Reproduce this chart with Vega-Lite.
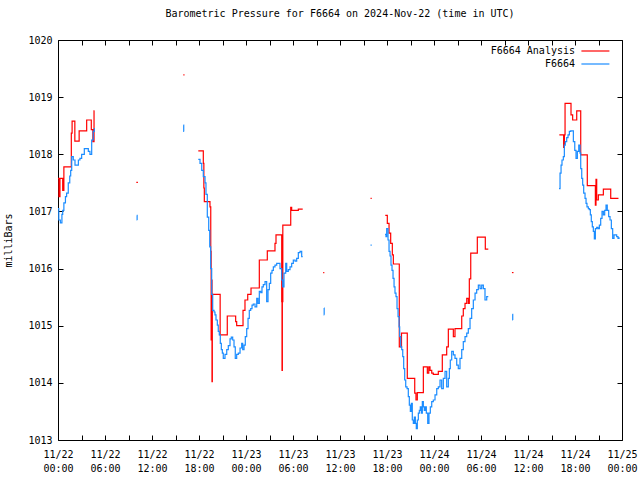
{
  "$schema": "https://vega.github.io/schema/vega-lite/v6.json",
  "width": 564,
  "height": 400,
  "autosize": "none",
  "padding": {"left": 58, "top": 40, "right": 18, "bottom": 40},
  "background": "white",
  "title": {"text": "Barometric Pressure for F6664 on 2024-Nov-22 (time in UTC)", "font": "DejaVu Sans Mono", "fontSize": 10, "fontWeight": "normal", "color": "black", "offset": 16},
  "datasets": {
    "analysis": [
      {"seg": 1, "hour": 0.0, "mbar": 1017.58}, {"seg": 1, "hour": 0.12, "mbar": 1017.26}, {"seg": 1, "hour": 0.25, "mbar": 1017.58}, {"seg": 1, "hour": 0.6, "mbar": 1017.37}, {"seg": 1, "hour": 0.75, "mbar": 1017.78}, {"seg": 1, "hour": 1.7, "mbar": 1018.37}, {"seg": 1, "hour": 1.8, "mbar": 1018.58}, {"seg": 1, "hour": 2.15, "mbar": 1018.23}, {"seg": 1, "hour": 2.7, "mbar": 1018.41}, {"seg": 1, "hour": 3.66, "mbar": 1018.6}, {"seg": 1, "hour": 4.25, "mbar": 1018.43}, {"seg": 1, "hour": 4.45, "mbar": 1018.22}, {"seg": 1, "hour": 4.6, "mbar": 1018.76}, {"seg": 1, "hour": 4.66, "mbar": 1018.76},
      {"seg": 2, "hour": 10.0, "mbar": 1017.51}, {"seg": 2, "hour": 10.2, "mbar": 1017.51},
      {"seg": 3, "hour": 16.0, "mbar": 1019.39}, {"seg": 3, "hour": 16.15, "mbar": 1019.39},
      {"seg": 4, "hour": 17.91, "mbar": 1018.06}, {"seg": 4, "hour": 18.55, "mbar": 1017.84}, {"seg": 4, "hour": 18.62, "mbar": 1017.41}, {"seg": 4, "hour": 18.68, "mbar": 1017.17}, {"seg": 4, "hour": 19.4, "mbar": 1017.08}, {"seg": 4, "hour": 19.5, "mbar": 1016.3}, {"seg": 4, "hour": 19.55, "mbar": 1014.75}, {"seg": 4, "hour": 19.6, "mbar": 1015.8}, {"seg": 4, "hour": 19.66, "mbar": 1014.02}, {"seg": 4, "hour": 19.7, "mbar": 1015.55}, {"seg": 4, "hour": 20.7, "mbar": 1014.84}, {"seg": 4, "hour": 21.61, "mbar": 1015.17}, {"seg": 4, "hour": 22.68, "mbar": 1015.07}, {"seg": 4, "hour": 22.81, "mbar": 1015.0}, {"seg": 4, "hour": 23.62, "mbar": 1015.27}, {"seg": 4, "hour": 23.87, "mbar": 1015.45}, {"seg": 4, "hour": 24.22, "mbar": 1015.55}, {"seg": 4, "hour": 24.64, "mbar": 1015.66}, {"seg": 4, "hour": 25.7, "mbar": 1016.15}, {"seg": 4, "hour": 26.72, "mbar": 1016.31}, {"seg": 4, "hour": 27.7, "mbar": 1016.44}, {"seg": 4, "hour": 27.83, "mbar": 1016.59}, {"seg": 4, "hour": 28.56, "mbar": 1015.42}, {"seg": 4, "hour": 28.6, "mbar": 1014.22}, {"seg": 4, "hour": 28.64, "mbar": 1015.42}, {"seg": 4, "hour": 28.7, "mbar": 1016.76}, {"seg": 4, "hour": 29.71, "mbar": 1017.07}, {"seg": 4, "hour": 29.83, "mbar": 1017.02}, {"seg": 4, "hour": 30.68, "mbar": 1017.04}, {"seg": 4, "hour": 31.24, "mbar": 1017.04},
      {"seg": 5, "hour": 33.85, "mbar": 1015.93}, {"seg": 5, "hour": 34.0, "mbar": 1015.93},
      {"seg": 6, "hour": 39.9, "mbar": 1017.23}, {"seg": 6, "hour": 40.05, "mbar": 1017.23},
      {"seg": 7, "hour": 41.78, "mbar": 1016.93}, {"seg": 7, "hour": 42.04, "mbar": 1016.79}, {"seg": 7, "hour": 42.26, "mbar": 1016.62}, {"seg": 7, "hour": 42.47, "mbar": 1016.44}, {"seg": 7, "hour": 42.68, "mbar": 1016.24}, {"seg": 7, "hour": 42.81, "mbar": 1016.08}, {"seg": 7, "hour": 43.57, "mbar": 1014.63}, {"seg": 7, "hour": 43.85, "mbar": 1014.87}, {"seg": 7, "hour": 44.59, "mbar": 1014.08}, {"seg": 7, "hour": 45.54, "mbar": 1013.82}, {"seg": 7, "hour": 45.7, "mbar": 1013.7}, {"seg": 7, "hour": 45.87, "mbar": 1013.83}, {"seg": 7, "hour": 46.64, "mbar": 1014.28}, {"seg": 7, "hour": 47.15, "mbar": 1014.17}, {"seg": 7, "hour": 47.33, "mbar": 1014.28}, {"seg": 7, "hour": 47.49, "mbar": 1014.22}, {"seg": 7, "hour": 47.71, "mbar": 1014.17}, {"seg": 7, "hour": 47.91, "mbar": 1014.15}, {"seg": 7, "hour": 48.55, "mbar": 1014.2}, {"seg": 7, "hour": 49.06, "mbar": 1014.49}, {"seg": 7, "hour": 49.62, "mbar": 1014.63}, {"seg": 7, "hour": 49.83, "mbar": 1014.94}, {"seg": 7, "hour": 50.47, "mbar": 1014.81}, {"seg": 7, "hour": 50.68, "mbar": 1014.95}, {"seg": 7, "hour": 51.54, "mbar": 1015.17}, {"seg": 7, "hour": 51.74, "mbar": 1015.3}, {"seg": 7, "hour": 51.96, "mbar": 1015.39}, {"seg": 7, "hour": 52.18, "mbar": 1015.48}, {"seg": 7, "hour": 52.38, "mbar": 1015.39}, {"seg": 7, "hour": 52.51, "mbar": 1015.82}, {"seg": 7, "hour": 52.69, "mbar": 1016.27}, {"seg": 7, "hour": 53.53, "mbar": 1016.55}, {"seg": 7, "hour": 54.55, "mbar": 1016.34}, {"seg": 7, "hour": 54.93, "mbar": 1016.34},
      {"seg": 8, "hour": 57.95, "mbar": 1015.93}, {"seg": 8, "hour": 58.15, "mbar": 1015.93},
      {"seg": 9, "hour": 64.0, "mbar": 1018.34}, {"seg": 9, "hour": 64.55, "mbar": 1018.12}, {"seg": 9, "hour": 64.65, "mbar": 1018.34}, {"seg": 9, "hour": 64.73, "mbar": 1018.89}, {"seg": 9, "hour": 65.49, "mbar": 1018.69}, {"seg": 9, "hour": 65.7, "mbar": 1018.6}, {"seg": 9, "hour": 66.22, "mbar": 1018.76}, {"seg": 9, "hour": 66.73, "mbar": 1017.99}, {"seg": 9, "hour": 67.57, "mbar": 1017.45}, {"seg": 9, "hour": 68.6, "mbar": 1017.11}, {"seg": 9, "hour": 68.68, "mbar": 1017.56}, {"seg": 9, "hour": 68.77, "mbar": 1017.2}, {"seg": 9, "hour": 68.98, "mbar": 1017.29}, {"seg": 9, "hour": 69.62, "mbar": 1017.39}, {"seg": 9, "hour": 70.56, "mbar": 1017.23}, {"seg": 9, "hour": 71.55, "mbar": 1017.23}
    ],
    "observed": [
      {"seg": 1, "hour": 0.0, "mbar": 1017.05}, {"seg": 1, "hour": 0.1, "mbar": 1016.85}, {"seg": 1, "hour": 0.3, "mbar": 1016.8}, {"seg": 1, "hour": 0.5, "mbar": 1016.95}, {"seg": 1, "hour": 0.6, "mbar": 1017.02}, {"seg": 1, "hour": 0.75, "mbar": 1017.15}, {"seg": 1, "hour": 0.95, "mbar": 1017.26}, {"seg": 1, "hour": 1.1, "mbar": 1017.32}, {"seg": 1, "hour": 1.31, "mbar": 1017.5}, {"seg": 1, "hour": 1.5, "mbar": 1017.62}, {"seg": 1, "hour": 1.62, "mbar": 1017.72}, {"seg": 1, "hour": 1.75, "mbar": 1017.96}, {"seg": 1, "hour": 1.95, "mbar": 1017.9}, {"seg": 1, "hour": 2.17, "mbar": 1017.81}, {"seg": 1, "hour": 2.6, "mbar": 1017.9}, {"seg": 1, "hour": 2.8, "mbar": 1017.93}, {"seg": 1, "hour": 3.02, "mbar": 1018.0}, {"seg": 1, "hour": 3.36, "mbar": 1018.1}, {"seg": 1, "hour": 3.87, "mbar": 1018.05}, {"seg": 1, "hour": 4.08, "mbar": 1018.0}, {"seg": 1, "hour": 4.3, "mbar": 1018.25}, {"seg": 1, "hour": 4.5, "mbar": 1018.4}, {"seg": 1, "hour": 4.63, "mbar": 1018.46},
      {"seg": 2, "hour": 10.05, "mbar": 1016.93}, {"seg": 2, "hour": 10.1, "mbar": 1016.85}, {"seg": 2, "hour": 10.12, "mbar": 1016.85},
      {"seg": 3, "hour": 16.0, "mbar": 1018.51}, {"seg": 3, "hour": 16.05, "mbar": 1018.4}, {"seg": 3, "hour": 16.07, "mbar": 1018.4},
      {"seg": 4, "hour": 17.91, "mbar": 1017.91}, {"seg": 4, "hour": 18.13, "mbar": 1017.84}, {"seg": 4, "hour": 18.35, "mbar": 1017.72}, {"seg": 4, "hour": 18.55, "mbar": 1017.61}, {"seg": 4, "hour": 18.77, "mbar": 1017.5}, {"seg": 4, "hour": 18.89, "mbar": 1017.3}, {"seg": 4, "hour": 19.06, "mbar": 1016.9}, {"seg": 4, "hour": 19.24, "mbar": 1016.67}, {"seg": 4, "hour": 19.37, "mbar": 1016.38}, {"seg": 4, "hour": 19.49, "mbar": 1016.0}, {"seg": 4, "hour": 19.62, "mbar": 1015.55}, {"seg": 4, "hour": 19.75, "mbar": 1015.27}, {"seg": 4, "hour": 19.92, "mbar": 1015.24}, {"seg": 4, "hour": 20.04, "mbar": 1015.19}, {"seg": 4, "hour": 20.17, "mbar": 1015.1}, {"seg": 4, "hour": 20.34, "mbar": 1015.01}, {"seg": 4, "hour": 20.46, "mbar": 1014.9}, {"seg": 4, "hour": 20.59, "mbar": 1014.84}, {"seg": 4, "hour": 20.72, "mbar": 1014.69}, {"seg": 4, "hour": 20.85, "mbar": 1014.58}, {"seg": 4, "hour": 20.98, "mbar": 1014.52}, {"seg": 4, "hour": 21.1, "mbar": 1014.43}, {"seg": 4, "hour": 21.32, "mbar": 1014.5}, {"seg": 4, "hour": 21.54, "mbar": 1014.58}, {"seg": 4, "hour": 21.74, "mbar": 1014.65}, {"seg": 4, "hour": 21.96, "mbar": 1014.77}, {"seg": 4, "hour": 22.12, "mbar": 1014.8}, {"seg": 4, "hour": 22.3, "mbar": 1014.75}, {"seg": 4, "hour": 22.47, "mbar": 1014.63}, {"seg": 4, "hour": 22.63, "mbar": 1014.43}, {"seg": 4, "hour": 22.81, "mbar": 1014.5}, {"seg": 4, "hour": 23.02, "mbar": 1014.52}, {"seg": 4, "hour": 23.24, "mbar": 1014.61}, {"seg": 4, "hour": 23.45, "mbar": 1014.69}, {"seg": 4, "hour": 23.58, "mbar": 1014.58}, {"seg": 4, "hour": 23.75, "mbar": 1014.66}, {"seg": 4, "hour": 23.91, "mbar": 1014.81}, {"seg": 4, "hour": 24.09, "mbar": 1014.95}, {"seg": 4, "hour": 24.26, "mbar": 1015.13}, {"seg": 4, "hour": 24.42, "mbar": 1015.27}, {"seg": 4, "hour": 24.6, "mbar": 1015.3}, {"seg": 4, "hour": 24.77, "mbar": 1015.36}, {"seg": 4, "hour": 24.93, "mbar": 1015.38}, {"seg": 4, "hour": 25.15, "mbar": 1015.33}, {"seg": 4, "hour": 25.37, "mbar": 1015.48}, {"seg": 4, "hour": 25.53, "mbar": 1015.39}, {"seg": 4, "hour": 25.7, "mbar": 1015.6}, {"seg": 4, "hour": 25.88, "mbar": 1015.58}, {"seg": 4, "hour": 26.04, "mbar": 1015.68}, {"seg": 4, "hour": 26.21, "mbar": 1015.72}, {"seg": 4, "hour": 26.43, "mbar": 1015.77}, {"seg": 4, "hour": 26.64, "mbar": 1015.42}, {"seg": 4, "hour": 26.81, "mbar": 1015.63}, {"seg": 4, "hour": 26.98, "mbar": 1015.74}, {"seg": 4, "hour": 27.15, "mbar": 1015.92}, {"seg": 4, "hour": 27.32, "mbar": 1015.97}, {"seg": 4, "hour": 27.49, "mbar": 1016.03}, {"seg": 4, "hour": 27.7, "mbar": 1016.06}, {"seg": 4, "hour": 27.92, "mbar": 1016.09}, {"seg": 4, "hour": 28.12, "mbar": 1016.09}, {"seg": 4, "hour": 28.34, "mbar": 1016.0}, {"seg": 4, "hour": 28.56, "mbar": 1015.8}, {"seg": 4, "hour": 28.69, "mbar": 1015.68}, {"seg": 4, "hour": 28.85, "mbar": 1015.92}, {"seg": 4, "hour": 29.07, "mbar": 1016.09}, {"seg": 4, "hour": 29.2, "mbar": 1015.95}, {"seg": 4, "hour": 29.4, "mbar": 1015.98}, {"seg": 4, "hour": 29.62, "mbar": 1016.03}, {"seg": 4, "hour": 29.83, "mbar": 1016.09}, {"seg": 4, "hour": 30.04, "mbar": 1016.15}, {"seg": 4, "hour": 30.26, "mbar": 1016.13}, {"seg": 4, "hour": 30.47, "mbar": 1016.18}, {"seg": 4, "hour": 30.68, "mbar": 1016.28}, {"seg": 4, "hour": 30.9, "mbar": 1016.3}, {"seg": 4, "hour": 31.11, "mbar": 1016.21}, {"seg": 4, "hour": 31.24, "mbar": 1016.21},
      {"seg": 5, "hour": 33.96, "mbar": 1015.31}, {"seg": 5, "hour": 33.98, "mbar": 1015.19}, {"seg": 5, "hour": 34.0, "mbar": 1015.19},
      {"seg": 6, "hour": 39.9, "mbar": 1016.41}, {"seg": 6, "hour": 40.05, "mbar": 1016.41},
      {"seg": 7, "hour": 41.75, "mbar": 1016.6}, {"seg": 7, "hour": 41.87, "mbar": 1016.56}, {"seg": 7, "hour": 41.96, "mbar": 1016.7}, {"seg": 7, "hour": 42.13, "mbar": 1016.5}, {"seg": 7, "hour": 42.26, "mbar": 1016.3}, {"seg": 7, "hour": 42.39, "mbar": 1016.22}, {"seg": 7, "hour": 42.51, "mbar": 1016.06}, {"seg": 7, "hour": 42.64, "mbar": 1015.97}, {"seg": 7, "hour": 42.77, "mbar": 1015.83}, {"seg": 7, "hour": 42.9, "mbar": 1015.68}, {"seg": 7, "hour": 43.02, "mbar": 1015.57}, {"seg": 7, "hour": 43.15, "mbar": 1015.51}, {"seg": 7, "hour": 43.28, "mbar": 1015.3}, {"seg": 7, "hour": 43.41, "mbar": 1015.16}, {"seg": 7, "hour": 43.54, "mbar": 1014.98}, {"seg": 7, "hour": 43.62, "mbar": 1014.81}, {"seg": 7, "hour": 43.75, "mbar": 1014.63}, {"seg": 7, "hour": 43.88, "mbar": 1014.58}, {"seg": 7, "hour": 44.01, "mbar": 1014.46}, {"seg": 7, "hour": 44.13, "mbar": 1014.25}, {"seg": 7, "hour": 44.26, "mbar": 1014.05}, {"seg": 7, "hour": 44.39, "mbar": 1013.93}, {"seg": 7, "hour": 44.56, "mbar": 1013.9}, {"seg": 7, "hour": 44.72, "mbar": 1013.76}, {"seg": 7, "hour": 44.85, "mbar": 1013.61}, {"seg": 7, "hour": 44.98, "mbar": 1013.5}, {"seg": 7, "hour": 45.11, "mbar": 1013.64}, {"seg": 7, "hour": 45.23, "mbar": 1013.35}, {"seg": 7, "hour": 45.36, "mbar": 1013.29}, {"seg": 7, "hour": 45.49, "mbar": 1013.4}, {"seg": 7, "hour": 45.62, "mbar": 1013.29}, {"seg": 7, "hour": 45.74, "mbar": 1013.2}, {"seg": 7, "hour": 45.87, "mbar": 1013.35}, {"seg": 7, "hour": 46.0, "mbar": 1013.47}, {"seg": 7, "hour": 46.13, "mbar": 1013.52}, {"seg": 7, "hour": 46.25, "mbar": 1013.58}, {"seg": 7, "hour": 46.38, "mbar": 1013.47}, {"seg": 7, "hour": 46.51, "mbar": 1013.67}, {"seg": 7, "hour": 46.64, "mbar": 1013.58}, {"seg": 7, "hour": 46.76, "mbar": 1013.52}, {"seg": 7, "hour": 46.89, "mbar": 1013.58}, {"seg": 7, "hour": 47.02, "mbar": 1013.47}, {"seg": 7, "hour": 47.2, "mbar": 1013.29}, {"seg": 7, "hour": 47.36, "mbar": 1013.47}, {"seg": 7, "hour": 47.53, "mbar": 1013.58}, {"seg": 7, "hour": 47.71, "mbar": 1013.67}, {"seg": 7, "hour": 47.91, "mbar": 1013.7}, {"seg": 7, "hour": 48.13, "mbar": 1013.79}, {"seg": 7, "hour": 48.35, "mbar": 1013.9}, {"seg": 7, "hour": 48.55, "mbar": 1013.93}, {"seg": 7, "hour": 48.77, "mbar": 1014.05}, {"seg": 7, "hour": 48.98, "mbar": 1013.9}, {"seg": 7, "hour": 49.19, "mbar": 1014.08}, {"seg": 7, "hour": 49.41, "mbar": 1014.2}, {"seg": 7, "hour": 49.62, "mbar": 1013.93}, {"seg": 7, "hour": 49.83, "mbar": 1014.08}, {"seg": 7, "hour": 49.96, "mbar": 1014.25}, {"seg": 7, "hour": 50.08, "mbar": 1014.4}, {"seg": 7, "hour": 50.26, "mbar": 1014.55}, {"seg": 7, "hour": 50.47, "mbar": 1014.49}, {"seg": 7, "hour": 50.68, "mbar": 1014.43}, {"seg": 7, "hour": 50.9, "mbar": 1014.31}, {"seg": 7, "hour": 51.1, "mbar": 1014.25}, {"seg": 7, "hour": 51.32, "mbar": 1014.43}, {"seg": 7, "hour": 51.54, "mbar": 1014.58}, {"seg": 7, "hour": 51.74, "mbar": 1014.72}, {"seg": 7, "hour": 51.96, "mbar": 1014.81}, {"seg": 7, "hour": 52.18, "mbar": 1014.87}, {"seg": 7, "hour": 52.38, "mbar": 1014.95}, {"seg": 7, "hour": 52.6, "mbar": 1015.13}, {"seg": 7, "hour": 52.81, "mbar": 1015.3}, {"seg": 7, "hour": 53.02, "mbar": 1015.45}, {"seg": 7, "hour": 53.24, "mbar": 1015.57}, {"seg": 7, "hour": 53.45, "mbar": 1015.63}, {"seg": 7, "hour": 53.66, "mbar": 1015.71}, {"seg": 7, "hour": 53.88, "mbar": 1015.65}, {"seg": 7, "hour": 54.09, "mbar": 1015.71}, {"seg": 7, "hour": 54.3, "mbar": 1015.65}, {"seg": 7, "hour": 54.51, "mbar": 1015.45}, {"seg": 7, "hour": 54.73, "mbar": 1015.51}, {"seg": 7, "hour": 54.93, "mbar": 1015.51},
      {"seg": 8, "hour": 58.0, "mbar": 1015.2}, {"seg": 8, "hour": 58.05, "mbar": 1015.1}, {"seg": 8, "hour": 58.07, "mbar": 1015.1},
      {"seg": 9, "hour": 63.96, "mbar": 1017.4}, {"seg": 9, "hour": 64.09, "mbar": 1017.67}, {"seg": 9, "hour": 64.22, "mbar": 1017.81}, {"seg": 9, "hour": 64.34, "mbar": 1017.9}, {"seg": 9, "hour": 64.51, "mbar": 1017.96}, {"seg": 9, "hour": 64.64, "mbar": 1018.16}, {"seg": 9, "hour": 64.76, "mbar": 1018.22}, {"seg": 9, "hour": 64.94, "mbar": 1018.29}, {"seg": 9, "hour": 65.11, "mbar": 1018.34}, {"seg": 9, "hour": 65.28, "mbar": 1018.4}, {"seg": 9, "hour": 65.45, "mbar": 1018.41}, {"seg": 9, "hour": 65.62, "mbar": 1018.41}, {"seg": 9, "hour": 65.79, "mbar": 1018.22}, {"seg": 9, "hour": 65.97, "mbar": 1018.07}, {"seg": 9, "hour": 66.13, "mbar": 1017.93}, {"seg": 9, "hour": 66.3, "mbar": 1018.05}, {"seg": 9, "hour": 66.48, "mbar": 1018.16}, {"seg": 9, "hour": 66.64, "mbar": 1018.02}, {"seg": 9, "hour": 66.73, "mbar": 1017.75}, {"seg": 9, "hour": 66.86, "mbar": 1017.58}, {"seg": 9, "hour": 66.98, "mbar": 1017.46}, {"seg": 9, "hour": 67.11, "mbar": 1017.32}, {"seg": 9, "hour": 67.28, "mbar": 1017.23}, {"seg": 9, "hour": 67.41, "mbar": 1017.14}, {"seg": 9, "hour": 67.53, "mbar": 1017.08}, {"seg": 9, "hour": 67.7, "mbar": 1017.05}, {"seg": 9, "hour": 67.83, "mbar": 1017.03}, {"seg": 9, "hour": 67.96, "mbar": 1016.94}, {"seg": 9, "hour": 68.08, "mbar": 1016.82}, {"seg": 9, "hour": 68.21, "mbar": 1016.73}, {"seg": 9, "hour": 68.34, "mbar": 1016.65}, {"seg": 9, "hour": 68.47, "mbar": 1016.52}, {"seg": 9, "hour": 68.6, "mbar": 1016.7}, {"seg": 9, "hour": 68.77, "mbar": 1016.72}, {"seg": 9, "hour": 68.94, "mbar": 1016.7}, {"seg": 9, "hour": 69.11, "mbar": 1016.76}, {"seg": 9, "hour": 69.28, "mbar": 1016.88}, {"seg": 9, "hour": 69.45, "mbar": 1017.0}, {"seg": 9, "hour": 69.62, "mbar": 1016.94}, {"seg": 9, "hour": 69.79, "mbar": 1017.02}, {"seg": 9, "hour": 69.96, "mbar": 1017.11}, {"seg": 9, "hour": 70.12, "mbar": 1017.02}, {"seg": 9, "hour": 70.3, "mbar": 1016.91}, {"seg": 9, "hour": 70.47, "mbar": 1016.85}, {"seg": 9, "hour": 70.64, "mbar": 1016.7}, {"seg": 9, "hour": 70.81, "mbar": 1016.53}, {"seg": 9, "hour": 70.98, "mbar": 1016.59}, {"seg": 9, "hour": 71.15, "mbar": 1016.59}, {"seg": 9, "hour": 71.32, "mbar": 1016.56}, {"seg": 9, "hour": 71.49, "mbar": 1016.53}, {"seg": 9, "hour": 71.62, "mbar": 1016.55}
    ]
  },
  "layer": [
    {
      "data": {"name": "analysis"},
      "mark": {"type": "line", "interpolate": "step-after", "strokeWidth": 1.2},
      "encoding": {
        "x": {"field": "hour", "type": "quantitative", "scale": {"domain": [0, 72], "nice": false, "zero": false},
          "axis": {"orient": "bottom", "title": null, "values": [0,3,6,9,12,15,18,21,24,27,30,33,36,39,42,45,48,51,54,57,60,63,66,69,72], "tickSize": -5, "labelPadding": 14, "labelLineHeight": 14, "labelBaseline": "top", "labelFlush": false, "labelOverlap": false,
            "labelExpr": "datum.value % 6 == 0 ? ['11/' + (22 + floor(datum.value / 24)), (datum.value % 24 < 10 ? '0' : '') + (datum.value % 24) + ':00'] : ''"}},
        "y": {"field": "mbar", "type": "quantitative", "scale": {"domain": [1013, 1020], "nice": false, "zero": false},
          "axis": {"orient": "left", "title": "milliBars", "values": [1013,1014,1015,1016,1017,1018,1019,1020], "tickSize": -5, "labelPadding": 11, "titlePadding": 14, "format": "d"}},
        "detail": {"field": "seg", "type": "nominal"},
        "color": {"datum": "F6664 Analysis", "type": "nominal", "scale": {"domain": ["F6664 Analysis", "F6664"], "range": ["#ff0000", "#1a8cff"]},
          "legend": {"orient": "top-right", "title": null, "symbolType": "M-2.8,0H1.2M2.2,0", "symbolSize": 196, "symbolStrokeWidth": 1.2, "labelAlign": "right", "labelOffset": -34, "rowPadding": 0, "offset": 3}}
      }
    },
    {
      "data": {"name": "observed"},
      "mark": {"type": "line", "interpolate": "step-after", "strokeWidth": 1.2},
      "encoding": {
        "x": {"field": "hour", "type": "quantitative",
          "axis": {"orient": "top", "title": null, "labels": false, "values": [0,3,6,9,12,15,18,21,24,27,30,33,36,39,42,45,48,51,54,57,60,63,66,69,72], "tickSize": -5}},
        "y": {"field": "mbar", "type": "quantitative",
          "axis": {"orient": "right", "title": null, "labels": false, "values": [1013,1014,1015,1016,1017,1018,1019,1020], "tickSize": -5}},
        "detail": {"field": "seg", "type": "nominal"},
        "color": {"datum": "F6664", "type": "nominal"}
      }
    }
  ],
  "resolve": {"axis": {"x": "independent", "y": "independent"}},
  "config": {
    "view": {"stroke": "black", "strokeWidth": 1},
    "axis": {"domain": false, "grid": false, "tickColor": "black", "tickWidth": 1, "labelFont": "DejaVu Sans Mono", "labelFontSize": 10, "labelColor": "black", "titleFont": "DejaVu Sans Mono", "titleFontSize": 10, "titleFontWeight": "normal", "titleColor": "black"},
    "legend": {"labelFont": "DejaVu Sans Mono", "labelFontSize": 10, "labelColor": "black"}
  }
}
